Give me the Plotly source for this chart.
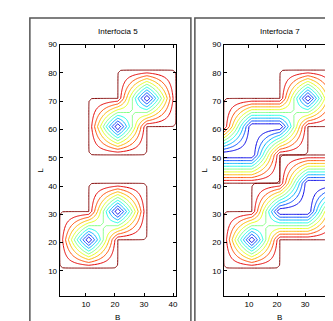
import numpy as np
import plotly.graph_objects as go

# ---- data ----
x_vals = np.arange(1, 42)
y_vals = np.arange(1, 91)

# left panel: four foci (segments with zero length)
left_x0 = [11, 21, 21, 31]
left_x1 = [11, 21, 21, 31]
left_y = [21, 31, 61, 71]

# right panel: two foci + stepped ridges (wrapping in x)
right_x0 = [11, 31, 21, 31, -20, 11]
right_x1 = [11, 31, 31, 60, 11, 21]
right_y = [21, 71, 31, 41, 51, 61]

levels = [0.1, 0.2, 0.3, 0.4, 0.5, 0.6, 0.7, 0.8, 0.9, 0.999]
x_ticks = [10, 20, 30, 40]
y_ticks = [10, 20, 30, 40, 50, 60, 70, 80, 90]
titles = ["Interfocia 5", "Interfocia 7"]

HALF = 10.0


def field(x0s, x1s, ys):
    X, Y = np.meshgrid(x_vals, y_vals)
    g = np.zeros(X.shape)
    for a, b, c in zip(x0s, x1s, ys):
        dx = np.maximum(0, np.maximum(a - X, X - b))
        dy = np.abs(Y - c)
        v = np.clip(1 - dx / HALF, 0, 1) * np.clip(1 - dy / HALF, 0, 1)
        g = g + v
    return 1.0 - np.clip(g, 0, 1)


def jet(t):
    r = np.clip(1.5 - abs(4 * t - 3), 0, 1)
    gg = np.clip(1.5 - abs(4 * t - 2), 0, 1)
    b = np.clip(1.5 - abs(4 * t - 1), 0, 1)
    return "rgb(%d,%d,%d)" % (round(r * 255), round(gg * 255), round(b * 255))


W, H = 333, 321
fig = go.Figure()

fields = [field(left_x0, left_x1, left_y), field(right_x0, right_x1, right_y)]
axes_px = [(52, 169), (217, 330)]
top_px, bot_px = 33, 288

for i, Z in enumerate(fields):
    xa = "x" if i == 0 else "x2"
    ya = "y" if i == 0 else "y2"
    for lv in levels:
        c = jet(lv)
        fig.add_trace(go.Contour(
            x=x_vals, y=y_vals, z=Z, xaxis=xa, yaxis=ya,
            autocontour=False,
            contours=dict(start=lv, end=lv, size=1, coloring="lines", showlabels=False),
            line=dict(width=1, smoothing=0),
            colorscale=[[0, c], [1, c]], showscale=False, hoverinfo="skip"))

font = dict(family="Liberation Sans, Arial, sans-serif", size=8, color="black")
ydom = [1 - bot_px / H, 1 - top_px / H]
axcommon = dict(showgrid=False, zeroline=False, showline=True, linecolor="black", linewidth=1,
                mirror="allticks", ticks="inside", ticklen=3, tickcolor="black", tickfont=font)

layout = dict(width=W, height=H, margin=dict(l=0, r=0, t=0, b=0),
              paper_bgcolor="white", plot_bgcolor="white", showlegend=False)
for i, (l, r) in enumerate(axes_px):
    sx = "xaxis" if i == 0 else "xaxis2"
    sy = "yaxis" if i == 0 else "yaxis2"
    layout[sx] = dict(axcommon, domain=[l / W, r / W], range=[1, 41], tickvals=x_ticks,
                      anchor="y" if i == 0 else "y2")
    layout[sy] = dict(axcommon, domain=ydom, range=[1, 90], tickvals=y_ticks,
                      anchor="x" if i == 0 else "x2")
fig.update_layout(**layout)

# panel frames
frames = [(22, 184), (188, 345)]
for (l, r) in frames:
    fig.add_shape(type="rect", xref="paper", yref="paper",
                  x0=l / W, x1=r / W, y0=1 - 335 / H, y1=1 - 6 / H,
                  line=dict(color="#555555", width=1.5), fillcolor="rgba(0,0,0,0)", layer="below")

annots = []
for i, (l, r) in enumerate(axes_px):
    cx = (l + r) / 2 / W
    annots.append(dict(x=cx, y=1 - 20 / H, xref="paper", yref="paper", text=titles[i],
                       showarrow=False, font=font, xanchor="center", yanchor="middle"))
    annots.append(dict(x=cx, y=1 - 309 / H, xref="paper", yref="paper", text="B",
                       showarrow=False, font=font, xanchor="center", yanchor="middle"))
    lx = 32 if i == 0 else 197
    annots.append(dict(x=lx / W, y=1 - 160 / H, xref="paper", yref="paper", text="L",
                       showarrow=False, font=font, textangle=-90, xanchor="center", yanchor="middle"))
fig.update_layout(annotations=annots)

fig.write_html("out.html")
